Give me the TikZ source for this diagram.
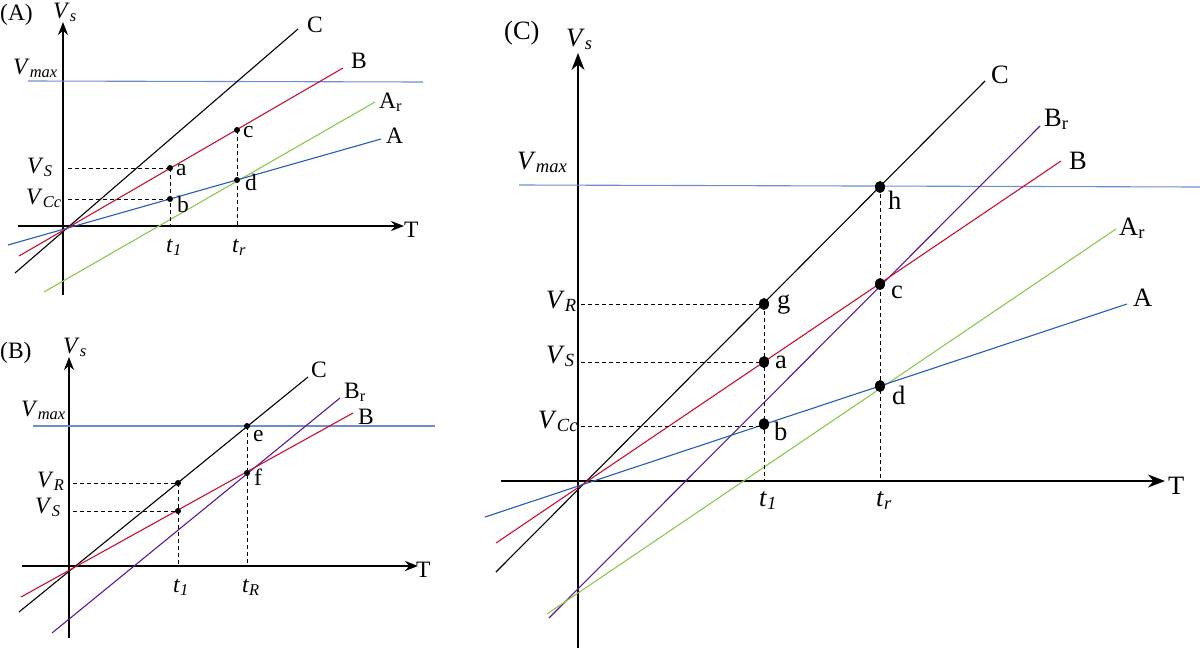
\documentclass[tikz,border=0pt]{standalone}
\usepackage{fontspec}
\setmainfont{Liberation Serif}
\usetikzlibrary{arrows.meta,shapes.geometric}
\definecolor{cB}{RGB}{200,16,50}
\definecolor{cAr}{RGB}{140,200,80}
\definecolor{cA}{RGB}{40,90,185}
\definecolor{cMax}{RGB}{110,140,210}
\definecolor{cBr}{RGB}{90,25,150}
\newcommand{\Vx}[2]{\textit{#1}\textsubscript{\textit{#2}}}
\begin{document}
\begin{tikzpicture}[x=1pt,y=-1pt,
  axis/.style={line width=1.5pt,-{Stealth[length=13pt,width=10pt]}},
  axisC/.style={line width=1.6pt,-{Stealth[length=17pt,width=13pt]}},
  curve/.style={line width=1.1pt},
  guide/.style={line width=0.9pt,dash pattern=on 4pt off 3pt},
  lab/.style={inner sep=0pt,anchor=base west,font=\fontsize{23.5}{28}\selectfont},
  labC/.style={inner sep=0pt,anchor=base west,font=\fontsize{26.5}{32}\selectfont},
  dotA/.style={circle,fill=black,inner sep=0pt,minimum size=6pt},
  dotC/.style={ellipse,fill=black,inner sep=0pt,minimum width=10pt,minimum height=12pt}]
\useasboundingbox (0,0) rectangle (1200,648);
% ================= Panel A =================
\coordinate (Ay0) at (63,295); \coordinate (Ay1) at (63,22);
\coordinate (Ax0) at (18,226); \coordinate (Ax1) at (404,226);
\draw[axis] (Ay0) -- (Ay1);
\draw[axis] (Ax0) -- (Ax1);
\coordinate (AM0) at (28,81); \coordinate (AM1) at (423,82);
\draw[cMax,curve] (AM0) -- (AM1);
\coordinate (AC0) at (15,273); \coordinate (AC1) at (298,29);
\coordinate (AB0) at (19,256); \coordinate (AB1) at (343,68);
\coordinate (AAr0) at (44,292); \coordinate (AAr1) at (375,102);
\coordinate (AA0) at (8,245); \coordinate (AA1) at (381,139);
\draw[black,curve] (AC0) -- (AC1);
\draw[cB,curve] (AB0) -- (AB1);
\draw[cAr,curve] (AAr0) -- (AAr1);
\draw[cA,curve] (AA0) -- (AA1);
\coordinate (Aa) at (170,168); \coordinate (Ab) at (170,199);
\coordinate (Ac) at (237,130); \coordinate (Ad) at (237,180);
\coordinate (At1) at (170,226); \coordinate (Atr) at (237,226);
\coordinate (AhS) at (68,168); \coordinate (AhC) at (68,199);
\draw[guide] (AhS) -- (Aa);
\draw[guide] (AhC) -- (Ab);
\draw[guide] (Aa) -- (At1);
\draw[guide] (Ac) -- (Atr);
\node[dotA] (pa) at (Aa) {}; \node[dotA] (pb) at (Ab) {};
\node[dotA] (pc) at (Ac) {}; \node[dotA] (pd) at (Ad) {};
\node[lab] (tA) at (0,20) {(A)};
\node[lab] (tAVs) at (53,18) {\Vx{V}{s}};
\node[lab] (tAVm) at (13,74) {\Vx{V}{max}};
\node[lab] (tAC) at (307,32) {C};
\node[lab] (tAB) at (351,68) {B};
\node[lab] (tAAr) at (379,108) {A\textsubscript{r}};
\node[lab] (tAA) at (386,143) {A};
\node[lab] (tAc) at (243,137) {c};
\node[lab] (tAa) at (176,175) {a};
\node[lab] (tAd) at (245,190) {d};
\node[lab] (tAb) at (177,212) {b};
\node[lab] (tAVS) at (27,173) {\Vx{V}{S}};
\node[lab] (tAVC) at (26,204) {\Vx{V}{Cc}};
\node[lab] (tAT) at (404,237) {T};
\node[lab] (tAt1) at (166,252) {\Vx{t}{1}};
\node[lab] (tAtr) at (232,252) {\Vx{t}{r}};
% ================= Panel B =================
\coordinate (By0) at (69,638); \coordinate (By1) at (69,357);
\coordinate (Bx0) at (22,566); \coordinate (Bx1) at (418,566);
\draw[axis] (By0) -- (By1);
\draw[axis] (Bx0) -- (Bx1);
\coordinate (BM0) at (33,426); \coordinate (BM1) at (435,426);
\draw[cMax,curve] (BM0) -- (BM1);
\coordinate (BC0) at (19,612); \coordinate (BC1) at (308,377);
\coordinate (BBr0) at (52,633); \coordinate (BBr1) at (340,398);
\coordinate (BB0) at (21,597); \coordinate (BB1) at (353,413);
\draw[black,curve] (BC0) -- (BC1);
\draw[cBr,curve] (BBr0) -- (BBr1);
\draw[cB,curve] (BB0) -- (BB1);
\coordinate (BR) at (178,483); \coordinate (BS) at (178,511);
\coordinate (Be) at (247,426); \coordinate (Bf) at (247,473);
\coordinate (Bt1) at (178,566); \coordinate (BtR) at (247,566);
\coordinate (BhR) at (73,483); \coordinate (BhS) at (73,511);
\draw[guide] (BhR) -- (BR);
\draw[guide] (BhS) -- (BS);
\draw[guide] (BR) -- (Bt1);
\draw[guide] (Be) -- (BtR);
\node[dotA] (pR) at (BR) {}; \node[dotA] (pS) at (BS) {};
\node[dotA] (pe) at (Be) {}; \node[dotA] (pf) at (Bf) {};
\node[lab] (tB) at (0,358) {(B)};
\node[lab] (tBVs) at (63,353) {\Vx{V}{s}};
\node[lab] (tBVm) at (21,416) {\Vx{V}{max}};
\node[lab] (tBC) at (311,377) {C};
\node[lab] (tBBr) at (344,398) {B\textsubscript{r}};
\node[lab] (tBB) at (358,424) {B};
\node[lab] (tBe) at (253,441) {e};
\node[lab] (tBf) at (254,485) {f};
\node[lab] (tBVR) at (37,487) {\Vx{V}{R}};
\node[lab] (tBVS) at (35,513) {\Vx{V}{S}};
\node[lab] (tBT) at (416,577) {T};
\node[lab] (tBt1) at (173,592) {\Vx{t}{1}};
\node[lab] (tBtR) at (242,592) {\Vx{t}{R}};
% ================= Panel C =================
\coordinate (Cy0) at (578,648); \coordinate (Cy1) at (578,53);
\coordinate (Cx0) at (501,481); \coordinate (Cx1) at (1165,481);
\draw[axisC] (Cy0) -- (Cy1);
\draw[axisC] (Cx0) -- (Cx1);
\coordinate (CM0) at (519,185); \coordinate (CM1) at (1200,187);
\draw[cMax,curve] (CM0) -- (CM1);
\coordinate (CC0) at (496,572); \coordinate (CC1) at (985,81);
\coordinate (CBr0) at (549,618); \coordinate (CBr1) at (1040,126);
\coordinate (CB0) at (496,543); \coordinate (CB1) at (1061,161);
\coordinate (CAr0) at (547,614); \coordinate (CAr1) at (1116,229);
\coordinate (CA0) at (485,517); \coordinate (CA1) at (1127,304);
\draw[black,curve] (CC0) -- (CC1);
\draw[cBr,curve] (CBr0) -- (CBr1);
\draw[cB,curve] (CB0) -- (CB1);
\draw[cAr,curve] (CAr0) -- (CAr1);
\draw[cA,curve] (CA0) -- (CA1);
\coordinate (Cg) at (764,304); \coordinate (Ca) at (764,362);
\coordinate (Cb) at (764,424); \coordinate (Ch) at (880,187);
\coordinate (Cc) at (880,284); \coordinate (Cd) at (880,386);
\coordinate (Ct1) at (764,481); \coordinate (Ctr) at (880,481);
\coordinate (ChR) at (581,304); \coordinate (ChS) at (581,362);
\coordinate (ChC) at (581,426); \coordinate (CbC) at (764,426);
\draw[guide] (ChR) -- (Cg);
\draw[guide] (ChS) -- (Ca);
\draw[guide] (ChC) -- (CbC);
\draw[guide] (Cg) -- (Ct1);
\draw[guide] (Ch) -- (Ctr);
\node[dotC] (pg) at (Cg) {}; \node[dotC] (pa2) at (Ca) {};
\node[dotC] (pb2) at (Cb) {}; \node[dotC] (ph) at (Ch) {};
\node[dotC] (pc2) at (Cc) {}; \node[dotC] (pd2) at (Cd) {};
\node[labC] (tC) at (504,39) {(C)};
\node[labC] (tCVs) at (566,46) {\Vx{V}{s}};
\node[labC] (tCVm) at (517,169) {\Vx{V}{max}};
\node[labC] (tCC) at (991,83) {C};
\node[labC] (tCBr) at (1044,126) {B\textsubscript{r}};
\node[labC] (tCB) at (1069,169) {B};
\node[labC] (tCAr) at (1119,235) {A\textsubscript{r}};
\node[labC] (tCA) at (1133,306) {A};
\node[labC] (tCh) at (888,209) {h};
\node[labC] (tCc) at (891,298) {c};
\node[labC] (tCd) at (892,404) {d};
\node[labC] (tCg) at (777,308) {g};
\node[labC] (tCa) at (775,368) {a};
\node[labC] (tCb) at (774,440) {b};
\node[labC] (tCVR) at (546,308) {\Vx{V}{R}};
\node[labC] (tCVS) at (546,363) {\Vx{V}{S}};
\node[labC] (tCVC) at (538,428) {\Vx{V}{Cc}};
\node[labC] (tCT) at (1168,494) {T};
\node[labC] (tCt1) at (759,506) {\Vx{t}{1}};
\node[labC] (tCtr) at (876,506) {\Vx{t}{r}};
\end{tikzpicture}
\end{document}
